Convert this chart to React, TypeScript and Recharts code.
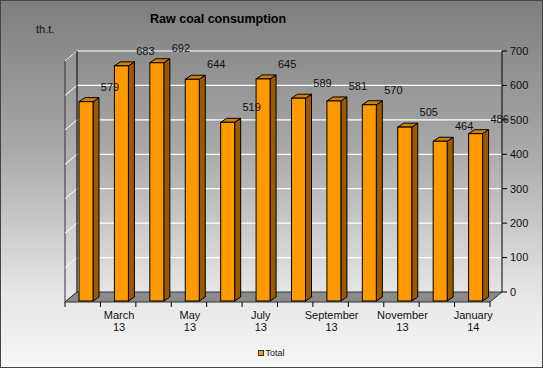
import React from 'react';
import { BarChart, Bar, XAxis, YAxis, CartesianGrid, LabelList, ReferenceArea, Legend } from 'recharts';

const months = ['February', 'March', 'April', 'May', 'June', 'July', 'August', 'September', 'October', 'November', 'December', 'January'];
const years = ['13', '13', '13', '13', '13', '13', '13', '13', '13', '13', '13', '14'];
const totals = [579, 683, 692, 644, 519, 645, 589, 581, 570, 505, 464, 486];
const yTicks = [0, 100, 200, 300, 400, 500, 600, 700];
const seriesName = 'Total';
const title = 'Raw coal consumption';
const unit = 'th.t.';

const data = months.map((m, i) => ({ month: m, year: years[i], total: totals[i] }));

const FONT = '"Liberation Sans", Arial, sans-serif';
const W = 543;
const H = 368;
const M_LEFT = 77;
const Y_W = 41;
const BAND_HALF = (W - M_LEFT - Y_W) / months.length / 2;

// 3D offsets
const FX = -9, FY = 9, DX = 6, DY = -4;
const WX = -12, WY = 10;

const Bar3D = (props: any) => {
  const { x, y, width, height } = props;
  if (height == null || width == null) return null;
  const fx = x + FX, fy = y + FY;
  return (
    <g>
      <polygon
        points={`${fx + width},${fy} ${fx + width + DX},${fy + DY} ${fx + width + DX},${fy + height + DY} ${fx + width},${fy + height}`}
        fill="#9C5A00" stroke="#000" strokeWidth={1}
      />
      <polygon
        points={`${fx},${fy} ${fx + DX},${fy + DY} ${fx + width + DX},${fy + DY} ${fx + width},${fy}`}
        fill="#D08000" stroke="#000" strokeWidth={1}
      />
      <rect x={fx} y={fy} width={width} height={height} fill="#FF9900" stroke="#000" strokeWidth={1} />
    </g>
  );
};

const ValueLabel = (props: any) => {
  const { x, y, width, value } = props;
  return (
    <text x={x + width / 2 + 15} y={y - 6} textAnchor="middle" dominantBaseline="central"
      fontSize={11} fontFamily={FONT} fill="#111">{value}</text>
  );
};

const Walls = (props: any) => {
  const { x, y, width, height } = props;
  const by = y + height;
  const lines = yTicks.filter((v) => v > 0).map((v) => {
    const yy = y + height * (1 - v / 700);
    return <line key={v} x1={x} y1={yy} x2={x + WX} y2={yy + WY} stroke="#fff" strokeWidth={1} />;
  });
  return (
    <g>
      <polygon points={`${x},${y} ${x + WX},${y + WY} ${x + WX},${by + WY} ${x},${by}`}
        fill="rgba(255,255,255,0.06)" stroke="#333" strokeWidth={1} />
      {lines}
      <polygon points={`${x},${by} ${x + width},${by} ${x + width + WX},${by + WY} ${x + WX},${by + WY}`}
        fill="#8a8a8a" stroke="#333" strokeWidth={1} />
      <line x1={x} y1={y} x2={x} y2={by} stroke="#333" strokeWidth={1} />
    </g>
  );
};

const MonthTick = (props: any) => {
  const { x, y, index, payload } = props;
  const item = data[index];
  const bx = x - BAND_HALF + WX;
  const ty = y + WY;
  return (
    <g>
      <line x1={bx} y1={ty} x2={bx} y2={ty + 5} stroke="#000" />
      {index === months.length - 1 && (
        <line x1={x + BAND_HALF + WX} y1={ty} x2={x + BAND_HALF + WX} y2={ty + 5} stroke="#000" />
      )}
      {index % 2 === 1 && (
        <text x={x - 11} textAnchor="middle" fontSize={11} fontFamily={FONT} fill="#111">
          <tspan x={x - 11} y={y + 27}>{payload.value}</tspan>
          <tspan x={x - 11} y={y + 39}>{item ? item.year : ''}</tspan>
        </text>
      )}
    </g>
  );
};

const LegendContent = () => (
  <div style={{ height: 14, display: 'flex', alignItems: 'center', justifyContent: 'center', fontFamily: FONT, fontSize: 9, color: '#222' }}>
    <span style={{ display: 'inline-block', width: 4, height: 4, background: '#FF9900', border: '1px solid #333', marginRight: 1 }} />
    <span>{seriesName}</span>
  </div>
);

export default function App() {
  return (
    <div style={{
      position: 'absolute', left: 0, top: 0, width: W, height: H, boxSizing: 'border-box',
      border: '1px solid #444',
      background: 'linear-gradient(to bottom, #7e7e7e 0%, #a8a8a8 40%, #e6e6e6 80%, #f6f6f6 100%)',
      overflow: 'hidden',
    }}>
      <div style={{ position: 'absolute', left: 149, top: 11, fontFamily: FONT, fontWeight: 'bold', fontSize: 12.5, color: '#000' }}>{title}</div>
      <div style={{ position: 'absolute', left: 35, top: 22, fontFamily: FONT, fontSize: 11, color: '#111' }}>{unit}</div>
      <div style={{ position: 'absolute', left: -1, top: -1 }}>
        <BarChart width={W} height={H} data={data} margin={{ top: 51, right: 0, left: M_LEFT, bottom: 32 }} barSize={14}>
          <ReferenceArea y1={0} y2={700} shape={<Walls />} ifOverflow="visible" />
          <CartesianGrid horizontal={true} vertical={false} stroke="#fff" strokeWidth={1.2} />
          <XAxis dataKey="month" interval={0} axisLine={false} tickLine={false} tickSize={0} tickMargin={0}
            height={30} tick={<MonthTick />} />
          <YAxis orientation="right" domain={[0, 700]} ticks={yTicks} width={Y_W} interval={0}
            axisLine={{ stroke: '#000' }} tickLine={{ stroke: '#000' }} tickSize={5} tickMargin={3}
            tick={{ fontSize: 11, fontFamily: FONT, fill: '#111', textAnchor: 'start' }} />
          <Legend verticalAlign="bottom" content={<LegendContent />}
            wrapperStyle={{ top: 346, bottom: 'auto', left: 0, width: W }} />
          <Bar dataKey="total" name={seriesName} shape={<Bar3D />} isAnimationActive={false}>
            <LabelList dataKey="total" content={<ValueLabel />} />
          </Bar>
        </BarChart>
      </div>
    </div>
  );
}
